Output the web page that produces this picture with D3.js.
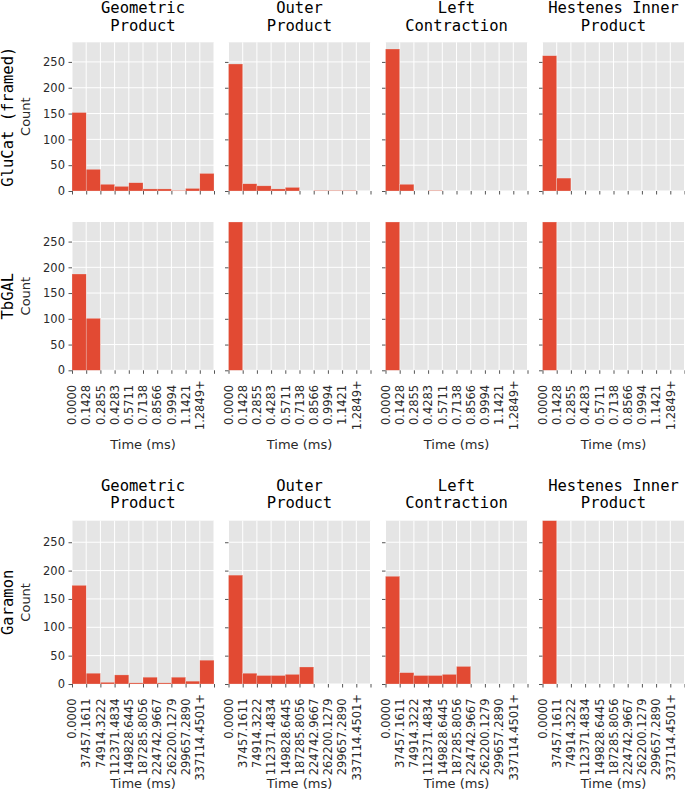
<!DOCTYPE html>
<html>
<head>
<meta charset="utf-8">
<script src="https://cdn.jsdelivr.net/npm/d3@7"></script>
<style>
  html, body { margin: 0; padding: 0; background: #ffffff; }
  svg { display: block; }
</style>
</head>
<body>
<svg id="chart" width="685" height="791"></svg>
<script>
// ---------- data ----------
const methods = [["Geometric", "Product"], ["Outer", "Product"], ["Left", "Contraction"], ["Hestenes Inner", "Product"]];
const libraries = ["GluCat (framed)", "TbGAL", "Garamon"];
const yTicks = [0, 50, 100, 150, 200, 250];
const yMax = 288;
const msTickLabels = ["0.0000", "0.1428", "0.2855", "0.4283", "0.5711", "0.7138", "0.8566", "0.9994", "1.1421", "1.2849+"];
const garamonTickLabels = ["0.0000", "37457.1611", "74914.3222", "112371.4834", "149828.6445", "187285.8056", "224742.9667", "262200.1279", "299657.2890", "337114.4501+"];

// counts per bin (10 bins)
const glucatGeometric = [152, 42, 13, 9, 16, 4, 4, 1, 5, 34];
const glucatOuter     = [246, 14, 10, 4, 7, 0, 1, 1, 1, 0];
const glucatLeft      = [275, 13, 0, 1, 0, 0, 0, 0, 0, 0];
const glucatHestenes  = [262, 25, 0, 0, 0, 0, 0, 0, 0, 0];

const tbgalGeometric  = [187, 101, 0, 0, 0, 0, 0, 0, 0, 0];
const tbgalOuter      = [288, 0, 0, 0, 0, 0, 0, 0, 0, 0];
const tbgalLeft       = [288, 0, 0, 0, 0, 0, 0, 0, 0, 0];
const tbgalHestenes   = [288, 0, 0, 0, 0, 0, 0, 0, 0, 0];

const garamonGeometric = [174, 19, 3, 16, 2, 12, 2, 12, 5, 42];
const garamonOuter     = [192, 19, 15, 15, 17, 30, 0, 0, 0, 0];
const garamonLeft      = [190, 20, 15, 15, 17, 31, 0, 0, 0, 0];
const garamonHestenes  = [288, 0, 0, 0, 0, 0, 0, 0, 0, 0];

const rowsData = [
  [glucatGeometric, glucatOuter, glucatLeft, glucatHestenes],
  [tbgalGeometric, tbgalOuter, tbgalLeft, tbgalHestenes],
  [garamonGeometric, garamonOuter, garamonLeft, garamonHestenes]
];
const rowTickLabels = [null, msTickLabels, garamonTickLabels];
const rowShowTitles = [true, false, true];

// ---------- layout ----------
const colLeft = [72, 228.5, 385.5, 542.5];
const panelW = 142;
const rowTop = [42.3, 222, 520.7];
const rowBottom = [191, 370.3, 684];
const nBins = 10;

const BAR = "#E24A33";
const BG = "#E5E5E5";
const TICK = "#555555";
const LABEL = "#2a2a2a";
const mono = "'DejaVu Sans Mono', monospace";
const sans = "'DejaVu Sans', sans-serif";

const svg = d3.select("#chart");

rowsData.forEach((row, r) => {
  const y = d3.scaleLinear().domain([0, yMax]).range([rowBottom[r], rowTop[r]]);

  // row labels
  const midY = (rowTop[r] + rowBottom[r]) / 2;
  svg.append("text")
    .attr("transform", `translate(12.5,${midY}) rotate(-90)`)
    .attr("text-anchor", "middle")
    .attr("font-family", mono).attr("font-size", 15.5).attr("fill", "#000")
    .text(libraries[r]);
  svg.append("text")
    .attr("transform", `translate(30,${midY}) rotate(-90)`)
    .attr("text-anchor", "middle")
    .attr("font-family", sans).attr("font-size", 13).attr("fill", LABEL)
    .text("Count");

  row.forEach((counts, c) => {
    const x = d3.scaleLinear().domain([0, nBins]).range([colLeft[c], colLeft[c] + panelW]);
    const g = svg.append("g");

    // background
    g.append("rect")
      .attr("x", x(0)).attr("y", y(yMax))
      .attr("width", x(nBins) - x(0)).attr("height", y(0) - y(yMax))
      .attr("fill", BG);

    // gridlines
    g.selectAll(".hg").data(yTicks).join("line")
      .attr("x1", x(0)).attr("x2", x(nBins))
      .attr("y1", d => y(d)).attr("y2", d => y(d))
      .attr("stroke", "#ffffff").attr("stroke-width", 1);
    g.selectAll(".vg").data(d3.range(nBins + 1)).join("line")
      .attr("x1", d => x(d)).attr("x2", d => x(d))
      .attr("y1", y(0)).attr("y2", y(yMax))
      .attr("stroke", "#ffffff").attr("stroke-width", 1);

    // bars
    g.selectAll(".bar").data(counts.map((v, i) => ({ v, i })).filter(d => d.v > 0)).join("rect")
      .attr("x", d => x(d.i)).attr("width", d => x(d.i + 1) - x(d.i))
      .attr("y", d => y(d.v)).attr("height", d => y(0) - y(d.v))
      .attr("fill", BAR)
      .attr("stroke", "rgba(238,238,238,0.55)").attr("stroke-width", 0.5);

    // y axis ticks
    const yAxis = d3.axisLeft(y).tickValues(yTicks).tickSize(3.5).tickPadding(3.5)
      .tickFormat(c === 0 ? d3.format("d") : () => "");
    const ya = g.append("g").attr("transform", `translate(${x(0)},0)`).call(yAxis);
    ya.select(".domain").remove();
    ya.selectAll(".tick line").attr("stroke", TICK);
    ya.selectAll(".tick text").attr("font-family", sans).attr("font-size", 11.5).attr("fill", LABEL);

    // x axis ticks
    const labels = rowTickLabels[r];
    const xAxis = d3.axisBottom(x).tickValues(d3.range(nBins + 1)).tickSize(3.5).tickFormat(() => "");
    const xa = g.append("g").attr("transform", `translate(0,${y(0)})`).call(xAxis);
    xa.select(".domain").remove();
    xa.selectAll(".tick line").attr("stroke", TICK);
    xa.selectAll(".tick text").remove();
    if (labels) {
      g.selectAll(".xl").data(labels).join("text")
        .attr("transform", (d, i) => `translate(${x(i) + 4.2},${y(0) + (d.endsWith("+") ? 10 : 14.5)}) rotate(-90)`)
        .attr("text-anchor", "end")
        .attr("font-family", sans).attr("font-size", 11.5).attr("fill", LABEL)
        .text(d => d);
      g.append("text")
        .attr("x", (x(0) + x(nBins)) / 2)
        .attr("y", r === 1 ? 449.3 : 788.3)
        .attr("text-anchor", "middle")
        .attr("font-family", sans).attr("font-size", 13).attr("fill", LABEL)
        .text("Time (ms)");
    }

    // titles
    if (rowShowTitles[r]) {
      const base = r === 0 ? 13.3 : 490.7;
      methods[c].forEach((line, li) => {
        g.append("text")
          .attr("x", (x(0) + x(nBins)) / 2)
          .attr("y", base + li * 17.7)
          .attr("text-anchor", "middle")
          .attr("font-family", mono).attr("font-size", 15.5).attr("fill", "#000")
          .text(line);
      });
    }
  });
});
</script>
</body>
</html>
